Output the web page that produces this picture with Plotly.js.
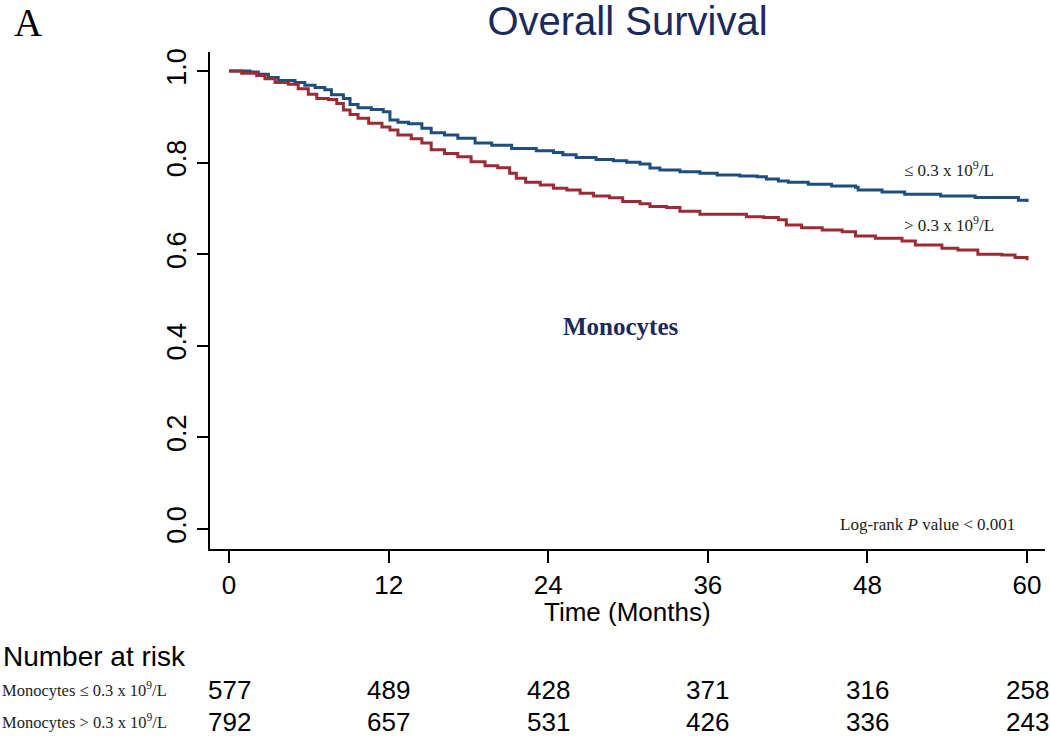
<!DOCTYPE html>
<html>
<head>
<meta charset="utf-8">
<script src="https://cdn.plot.ly/plotly-3.0.1.min.js"></script>
<style>html,body{margin:0;padding:0;background:#fff;}#chart{width:1050px;height:736px;}</style>
</head>
<body>
<div id="chart"></div>
<script>
// Survival curve for Monocytes <= 0.3 x 10^9/L (months, survival probability)
var lowTime = [0, 1.58, 2.2, 2.96, 3.7, 4.96, 5.7, 6.47, 7.2, 7.7, 8.6, 9.1, 9.7, 10.7, 11.6, 12.1, 12.7, 13.5, 14.5, 15.2, 16.2, 17.2, 18.5, 19.75, 21.25, 23.1, 24.4, 25.1, 26.1, 27.6, 28.9, 29.9, 30.9, 31.65, 32.4, 33.9, 35.4, 36.7, 38.4, 39.7, 40.4, 41.3, 42.05, 43.55, 45.3, 47.1, 47.3, 49.1, 50.8, 53.5, 56.1, 59.35, 60];
var lowSurv = [1.0, 0.998, 0.993, 0.986, 0.979, 0.975, 0.969, 0.964, 0.959, 0.948, 0.940, 0.927, 0.920, 0.916, 0.911, 0.893, 0.888, 0.885, 0.875, 0.865, 0.860, 0.853, 0.843, 0.838, 0.831, 0.826, 0.822, 0.817, 0.811, 0.807, 0.804, 0.801, 0.797, 0.788, 0.784, 0.780, 0.777, 0.773, 0.771, 0.769, 0.764, 0.760, 0.757, 0.753, 0.749, 0.746, 0.740, 0.736, 0.731, 0.727, 0.724, 0.718, 0.714];

// Survival curve for Monocytes > 0.3 x 10^9/L
var highTime = [0, 0.95, 2.08, 2.7, 3.46, 4.46, 5.2, 5.96, 6.6, 7.47, 8.1, 8.6, 9.1, 9.7, 10.5, 11.5, 12.1, 12.7, 13.7, 14.5, 15.2, 16.2, 17.2, 18.2, 19.25, 20.2, 21.1, 21.6, 22.3, 23.4, 24.4, 25.4, 26.4, 27.4, 28.6, 29.6, 30.9, 31.65, 32.9, 33.9, 35.4, 38.9, 40.2, 41.3, 41.9, 43.05, 44.6, 46.1, 47.1, 48.6, 50.6, 51.6, 53.6, 54.8, 56.3, 58.1, 59.1, 60];
var highSurv = [1.0, 0.995, 0.990, 0.983, 0.975, 0.971, 0.961, 0.949, 0.940, 0.938, 0.929, 0.915, 0.905, 0.897, 0.886, 0.878, 0.871, 0.860, 0.852, 0.843, 0.828, 0.820, 0.813, 0.802, 0.793, 0.789, 0.777, 0.766, 0.757, 0.751, 0.744, 0.740, 0.733, 0.727, 0.723, 0.715, 0.710, 0.704, 0.702, 0.694, 0.687, 0.682, 0.680, 0.675, 0.664, 0.658, 0.653, 0.649, 0.640, 0.635, 0.629, 0.620, 0.613, 0.609, 0.600, 0.598, 0.593, 0.587];

// Axis ticks
var xTicks = [0, 12, 24, 36, 48, 60];
var yTicks = [0, 0.2, 0.4, 0.6, 0.8, 1.0];
var yTickText = ["0.0", "0.2", "0.4", "0.6", "0.8", "1.0"];

// Number at risk table
var riskTimes = [0, 12, 24, 36, 48, 60];
var riskLow = [577, 489, 428, 371, 316, 258];
var riskHigh = [792, 657, 531, 426, 336, 243];
var rowLabels = ["Monocytes \u2264 0.3 x 10<sup>9</sup>/L", "Monocytes > 0.3 x 10<sup>9</sup>/L"];

var BLUE = "#1d4e7e";
var RED = "#9c2b36";
var NAVY = "#1c2a5a";
var SANS = "Liberation Sans, Arial, sans-serif";
var SERIF = "Liberation Serif, Times New Roman, serif";

var traces = [
  {x: lowTime, y: lowSurv, type: "scatter", mode: "lines", line: {shape: "hv", color: BLUE, width: 3}, hoverinfo: "skip"},
  {x: highTime, y: highSurv, type: "scatter", mode: "lines", line: {shape: "hv", color: RED, width: 3}, hoverinfo: "skip"}
];

var ann = [];
ann.push({text: "A", xref: "paper", yref: "paper", x: -0.237, y: 1.06, xanchor: "left", yanchor: "middle", showarrow: false, font: {family: SERIF, size: 39, color: "#000"}});
ann.push({text: "Time (Months)", xref: "paper", yref: "paper", x: 0.5, y: -0.1268, xanchor: "center", yanchor: "middle", showarrow: false, font: {family: SANS, size: 26, color: "#000"}});
ann.push({text: "\u2264 0.3 x 10<sup>9</sup>/L", xref: "paper", yref: "paper", x: 0.8287, y: 0.7646, xanchor: "left", yanchor: "middle", showarrow: false, font: {family: SERIF, size: 17, color: "#222"}});
ann.push({text: "> 0.3 x 10<sup>9</sup>/L", xref: "paper", yref: "paper", x: 0.8287, y: 0.654, xanchor: "left", yanchor: "middle", showarrow: false, font: {family: SERIF, size: 17, color: "#222"}});
ann.push({text: "<b>Monocytes</b>", xref: "paper", yref: "paper", x: 0.4922, y: 0.4467, xanchor: "center", yanchor: "middle", showarrow: false, font: {family: SERIF, size: 25, color: NAVY}});
ann.push({text: "Log-rank <i>P</i> value < 0.001", xref: "paper", yref: "paper", x: 0.9665, y: 0.0503, xanchor: "right", yanchor: "middle", showarrow: false, font: {family: SERIF, size: 17, color: "#222"}});
ann.push({text: "Number at risk", xref: "paper", yref: "paper", x: -0.2503, y: -0.2173, xanchor: "left", yanchor: "middle", showarrow: false, font: {family: SANS, size: 28, color: "#000"}});
ann.push({text: rowLabels[0], xref: "paper", yref: "paper", x: -0.251, y: -0.2837, xanchor: "left", yanchor: "middle", showarrow: false, font: {family: SERIF, size: 16.5, color: "#222"}});
ann.push({text: rowLabels[1], xref: "paper", yref: "paper", x: -0.251, y: -0.348, xanchor: "left", yanchor: "middle", showarrow: false, font: {family: SERIF, size: 16.5, color: "#222"}});
for (var i = 0; i < riskTimes.length; i++) {
  ann.push({text: String(riskLow[i]), xref: "x", yref: "paper", x: riskTimes[i], y: -0.2837, xanchor: "center", yanchor: "middle", showarrow: false, font: {family: SANS, size: 26, color: "#000"}});
  ann.push({text: String(riskHigh[i]), xref: "x", yref: "paper", x: riskTimes[i], y: -0.348, xanchor: "center", yanchor: "middle", showarrow: false, font: {family: SANS, size: 26, color: "#000"}});
}

var layout = {
  width: 1050, height: 736,
  margin: {l: 210, r: 5, t: 52, b: 187},
  paper_bgcolor: "#fff", plot_bgcolor: "#fff",
  showlegend: false,
  title: {text: "Overall Survival", x: 0.5976, xref: "container", xanchor: "center", y: 0.972, yref: "container", yanchor: "middle", font: {family: SANS, size: 40, color: NAVY}},
  xaxis: {
    range: [-1.43, 61.35], tickvals: xTicks, ticktext: xTicks.map(String),
    showgrid: false, zeroline: false, showline: true, linecolor: "#000", linewidth: 2,
    ticks: "outside", ticklen: 12, tickwidth: 2, tickcolor: "#000",
    tickfont: {family: SANS, size: 26, color: "#000"}
  },
  yaxis: {
    range: [-0.0437, 1.0415], tickvals: yTicks, ticktext: yTickText,
    showgrid: false, zeroline: false, showline: true, linecolor: "#000", linewidth: 2,
    ticks: "outside", ticklen: 11, tickwidth: 2, tickcolor: "#000", tickangle: -90,
    tickfont: {family: SANS, size: 27, color: "#000"}
  },
  annotations: ann
};

Plotly.newPlot("chart", traces, layout, {staticPlot: true, displayModeBar: false});
</script>
</body>
</html>
